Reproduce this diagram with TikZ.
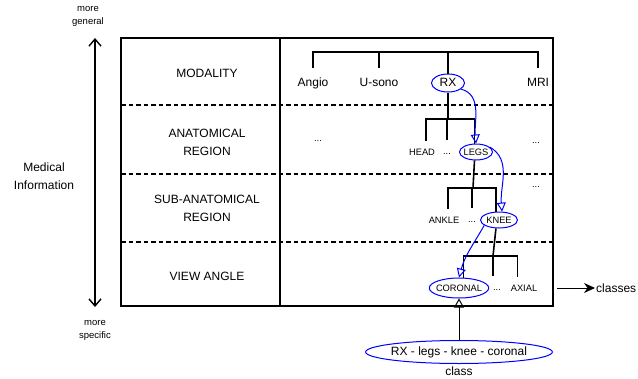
\documentclass[tikz,border=0pt]{standalone}
\usepackage{fontspec}
\setmainfont{Liberation Sans}
\usetikzlibrary{arrows.meta,shapes.geometric,positioning}

\begin{document}
\begin{tikzpicture}[x=1pt,y=-1pt,every node/.style={font=\fontsize{12}{18}\selectfont,align=center}]
  \tikzstyle{leaf}=[text height=1.5ex,text depth=.25ex,minimum height=30pt,inner sep=1pt]
  \tikzstyle{small}=[font=\fontsize{9.3}{11}\selectfont,text height=1.5ex,text depth=.25ex,minimum height=22pt,inner sep=1pt]
  \tikzstyle{note}=[font=\fontsize{9.5}{13}\selectfont]
  \tikzstyle{pick}=[draw=blue,line width=1pt,ellipse,inner xsep=-2pt,inner ysep=0pt,minimum height=16pt]
  \tikzstyle{tree}=[line width=1.6pt]
  \tikzstyle{walk}=[draw=blue,line width=1pt,-{Triangle[open,length=9pt,width=9pt]}]
  \useasboundingbox (0,0) rectangle (638,378);

  \draw[line width=1.6pt] (121,38) rectangle (553,306);
  \draw[line width=1.2pt] (280,38) -- (280,306);
  \foreach \y in {105,174,242}
    \draw[line width=1.2pt,dash pattern=on 4.5pt off 3pt] (121,\y) -- (553,\y);

  \node (modality) at (207,73) {MODALITY};
  \node (anatomical) at (207,142) {ANATOMICAL\\REGION};
  \node (subanatomical) at (207,208) {SUB-ANATOMICAL\\REGION};
  \node (viewangle) at (207,276) {VIEW ANGLE};
  \node (medical) at (44,176) {Medical\\Information};
  \node[note] (general) at (88,16) {more\\general};
  \node[note] (specific) at (95,330) {more\\specific};
  \coordinate (up) at (95,38);
  \coordinate (down) at (95,307);
  \draw[line width=1.4pt,{Straight Barb[length=7pt,width=12pt]}-{Straight Barb[length=7pt,width=12pt]}] (up) -- (down);

  \node[leaf] (angio) at (313,83) {Angio};
  \node[leaf] (usono) at (379,83) {U-sono};
  \node[leaf,pick,minimum width=33pt,minimum height=18pt] (rx) at (448,83) {RX};
  \node[leaf] (mri) at (538,83) {MRI};

  \node[small] (aleft) at (318,138) {...};
  \node[small] (head) at (422,152) {HEAD};
  \node[small] (adots) at (447,151) {...};
  \node[small,pick,minimum width=33pt] (legs) at (476,152) {LEGS};
  \node[small] (aright) at (536,140) {...};

  \node[small] (ankle) at (444,220) {ANKLE};
  \node[small] (sdots) at (472,219) {...};
  \node[small,pick,minimum width=37pt] (knee) at (499,220) {KNEE};
  \node[small] (sright) at (536,184) {...};

  \node[small,pick,minimum height=20pt] (coronal) at (459,288) {CORONAL};
  \node[small] (vdots) at (497,287) {...};
  \node[small] (axial) at (524,288) {AXIAL};

  \node[pick,text height=1.5ex,text depth=.25ex,minimum height=23pt] (path) at (459,352) {RX - legs - knee - coronal};
  \node[inner sep=0pt] (class) at (459,371) {class};
  \node[anchor=west,inner sep=1pt] (classes) at (595,288) {classes};
  \coordinate (exit) at (557,288);

  \coordinate (mbar) at (448,52);
  \draw[tree] (angio.north) |- (mbar) -| (mri.north);
  \draw[tree] (usono.north) -- (usono.north |- mbar);
  \draw[tree] (rx.north) -- (mbar);

  \coordinate (abar) at (448,119);
  \draw[tree] (rx.south) -- (abar);
  \draw[tree] (head.70) |- (abar) -| (legs.100);
  \draw[tree] (adots.north) -- (adots.north |- abar);

  \coordinate (sbar) at (473,188);
  \draw[tree] (legs.260) -- (sbar);
  \draw[tree] (ankle.70) |- (sbar) -| (knee.110);
  \draw[tree] (sdots.north) -- (sdots.north |- sbar);

  \coordinate (vbar) at (493,256);
  \draw[tree] (knee.250) -- (vbar);
  \draw[tree] (coronal.66) |- (vbar) -| (axial.120);
  \draw[tree] (vdots.110) -- (vdots.110 |- vbar);

  \draw[walk] (rx.-25) to[out=-15,in=95] (legs.north);
  \draw[walk] (legs.20) to[out=-30,in=95] (knee.70);
  \draw[walk] (knee.200) to[out=-120,in=75] (coronal.north);
  \draw[line width=1pt,-{Triangle[open,length=9pt,width=10pt]}] (path.north) -- (coronal.south);
  \draw[line width=1pt,-{Stealth[length=11pt,width=10pt]}] (exit) -- (classes.west);
\end{tikzpicture}
\end{document}
